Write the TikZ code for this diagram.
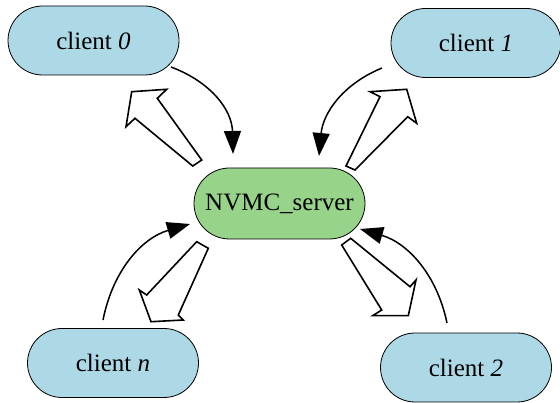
\documentclass[tikz,border=0pt]{standalone}
\usepackage{fontspec}
\setmainfont{Liberation Serif}
\usetikzlibrary{shapes.misc,arrows.meta}
\definecolor{clientblue}{RGB}{173,216,230}
\definecolor{servergreen}{RGB}{151,212,137}
\tikzset{
  client/.style={rounded rectangle, draw, fill=clientblue, line width=0.8pt,
    minimum width=171pt, minimum height=69pt, inner sep=0pt,
    font=\fontsize{25}{30}\selectfont},
  server/.style={client, fill=servergreen, minimum height=71pt},
  req/.style={line width=1.5pt, -{Triangle[length=23pt,width=17pt]}},
  reply/.style={draw, fill=white, line width=1.6pt, line join=miter}
}
\begin{document}
\begin{tikzpicture}[x=1pt,y=-1pt]
\useasboundingbox (0,0) rectangle (560,403);
\node[server] (srv) at (279.5,203.5) {NVMC\_server};
\node[client] (c0) at (93.5,40.5) {client \textit{0}};
\node[client, minimum width=170pt] (c1) at (476,43) {client \textit{1}};
\node[client] (cn) at (113,363) {client \textit{n}};
\node[client] (c2) at (466,367.5) {client \textit{2}};
% requests
\coordinate (c0out) at (171,67);  \coordinate (c0in) at (233,154);
\coordinate (c1out) at (382,68);  \coordinate (c1in) at (319,156);
\coordinate (cnout) at (103,320); \coordinate (cnin) at (190,224);
\coordinate (c2out) at (447,323); \coordinate (c2in) at (360,229);
\draw[req] (c0out) .. controls (211,82) and (232,110) .. (c0in);
\draw[req] (c1out) .. controls (343,84) and (323,113) .. (c1in);
\draw[req] (cnout) .. controls (113,270) and (142,238) .. (cnin);
\draw[req] (c2out) .. controls (437,275) and (408,243) .. (c2in);
% replies
\draw[reply] (131.7,91.7) -- (166.7,89.3) -- (157.3,98.3) -- (201.7,160) -- (192.7,166) -- (135,118.3) -- (126,126.7) -- cycle;
\draw[reply] (406.7,89.3) -- (416.7,123.3) -- (407.7,116.7) -- (355,170) -- (346,166) -- (380,96.7) -- (370,91.7) -- cycle;
\draw[reply] (196.7,241.7) -- (208.3,248.3) -- (178.3,315) -- (183.3,320) -- (151,321.7) -- (139.3,290) -- (146.7,295) -- cycle;
\draw[reply] (341.7,245) -- (350.7,238.3) -- (410,286.7) -- (416,280) -- (408.3,315.7) -- (372.7,315.7) -- (381.7,310) -- cycle;
\end{tikzpicture}
\end{document}
